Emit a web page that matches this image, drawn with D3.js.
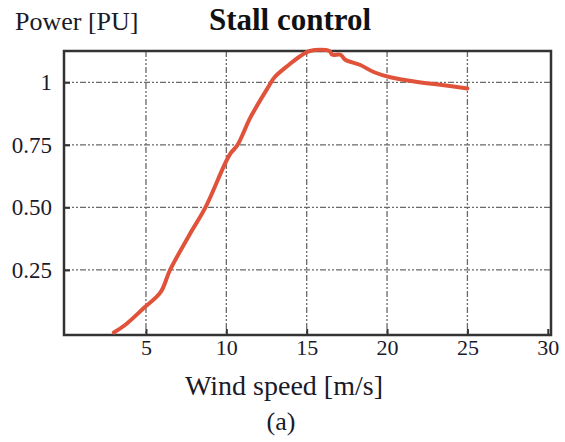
<!DOCTYPE html>
<html>
<head>
<meta charset="utf-8">
<script src="https://cdn.jsdelivr.net/npm/d3@7"></script>
<style>
  body { margin: 0; background: #fff; }
  text { font-family: "Liberation Serif", "Times New Roman", "DejaVu Serif", serif; }
</style>
</head>
<body>
<div id="chart"></div>
<script>
// data
var windSpeed = [3.0, 3.7, 4.9, 5.9, 6.5, 7.7, 8.7, 10.2, 10.7, 11.5, 12.6, 13.0, 13.9, 14.5, 15.2, 16.4, 16.6, 17.1, 17.4, 18.3, 19.2, 20.2, 22.0, 23.3, 25.0];
var power = [0.0, 0.03, 0.10, 0.16, 0.25, 0.39, 0.50, 0.71, 0.75, 0.86, 0.98, 1.02, 1.07, 1.10, 1.125, 1.125, 1.11, 1.11, 1.09, 1.07, 1.04, 1.02, 1.00, 0.99, 0.975];
var xTicks = [5, 10, 15, 20, 25, 30];
var yTicks = [0.25, 0.5, 0.75, 1];
var yTickLabels = ["0.25", "0.50", "0.75", "1"];

var svgWidth = 565;
var svgHeight = 442;

var margin = { top: 51, right: 14, bottom: 107, left: 64 };
var width = svgWidth - margin.left - margin.right;
var height = svgHeight - margin.top - margin.bottom;

var svg = d3.select("#chart")
  .append("svg")
  .attr("width", svgWidth)
  .attr("height", svgHeight);

var chartGroup = svg.append("g")
  .attr("transform", `translate(${margin.left}, ${margin.top})`);

var xScale = d3.scaleLinear()
  .domain([-0.1, 30.2])
  .range([0, width]);

var yScale = d3.scaleLinear()
  .domain([-0.01, 1.125])
  .range([height, 0]);

// grid
chartGroup.selectAll(".vgrid")
  .data(xTicks.slice(0, 5))
  .enter()
  .append("line")
  .attr("x1", d => xScale(d))
  .attr("x2", d => xScale(d))
  .attr("y1", 0)
  .attr("y2", height)
  .attr("stroke", "#6a6a6a")
  .attr("stroke-width", 1.3)
  .attr("stroke-dasharray", "6,2,2,2,2,2");

chartGroup.selectAll(".hgrid")
  .data(yTicks)
  .enter()
  .append("line")
  .attr("x1", 0)
  .attr("x2", width)
  .attr("y1", d => yScale(d))
  .attr("y2", d => yScale(d))
  .attr("stroke", "#6a6a6a")
  .attr("stroke-width", 1.3)
  .attr("stroke-dasharray", "6,2,2,2,2,2");

// axes (ticks point inward)
var bottomAxis = d3.axisBottom(xScale)
  .tickValues(xTicks)
  .tickSize(-6)
  .tickFormat(d3.format("d"));

var leftAxis = d3.axisLeft(yScale)
  .tickValues(yTicks)
  .tickSize(-6)
  .tickPadding(12)
  .tickFormat((d, i) => yTickLabels[i]);

var xAxisG = chartGroup.append("g")
  .attr("transform", `translate(0, ${height})`)
  .call(bottomAxis);

var yAxisG = chartGroup.append("g")
  .call(leftAxis);

[xAxisG, yAxisG].forEach(function(g) {
  g.attr("font-family", null);
  g.select(".domain").remove();
  g.selectAll("line").attr("stroke", "#333").attr("stroke-width", 2);
  g.selectAll("text")
    .attr("fill", "#1a1a2a");
});
xAxisG.attr("font-size", 22);
xAxisG.selectAll("text").attr("y", 20).attr("dy", 0);
yAxisG.attr("font-size", 23);

// frame
chartGroup.append("rect")
  .attr("x", 0)
  .attr("y", 0)
  .attr("width", width)
  .attr("height", height)
  .attr("fill", "none")
  .attr("stroke", "#333")
  .attr("stroke-width", 2.5);

// curve
var curveData = windSpeed.map((w, i) => ({ w: w, p: power[i] }));

var line = d3.line()
  .x(d => xScale(d.w))
  .y(d => yScale(d.p))
  .curve(d3.curveCatmullRom);

chartGroup.append("path")
  .datum(curveData)
  .attr("d", line)
  .attr("fill", "none")
  .attr("stroke", "#e0533a")
  .attr("stroke-width", 4)
  .attr("stroke-linecap", "round")
  .attr("stroke-linejoin", "round");

// labels
svg.append("text")
  .attr("x", 15)
  .attr("y", 30)
  .style("font-size", "26px")
  .attr("fill", "#1a1a2a")
  .text("Power [PU]");

svg.append("text")
  .attr("x", 290)
  .attr("y", 30)
  .attr("text-anchor", "middle")
  .style("font-size", "31px")
  .style("font-weight", "bold")
  .attr("fill", "#111")
  .text("Stall control");

svg.append("text")
  .attr("x", 284)
  .attr("y", 395)
  .attr("text-anchor", "middle")
  .style("font-size", "28px")
  .attr("fill", "#1a1a2a")
  .text("Wind speed [m/s]");

svg.append("text")
  .attr("x", 281)
  .attr("y", 430)
  .attr("text-anchor", "middle")
  .style("font-size", "26px")
  .attr("fill", "#1a1a2a")
  .text("(a)");
</script>
</body>
</html>
